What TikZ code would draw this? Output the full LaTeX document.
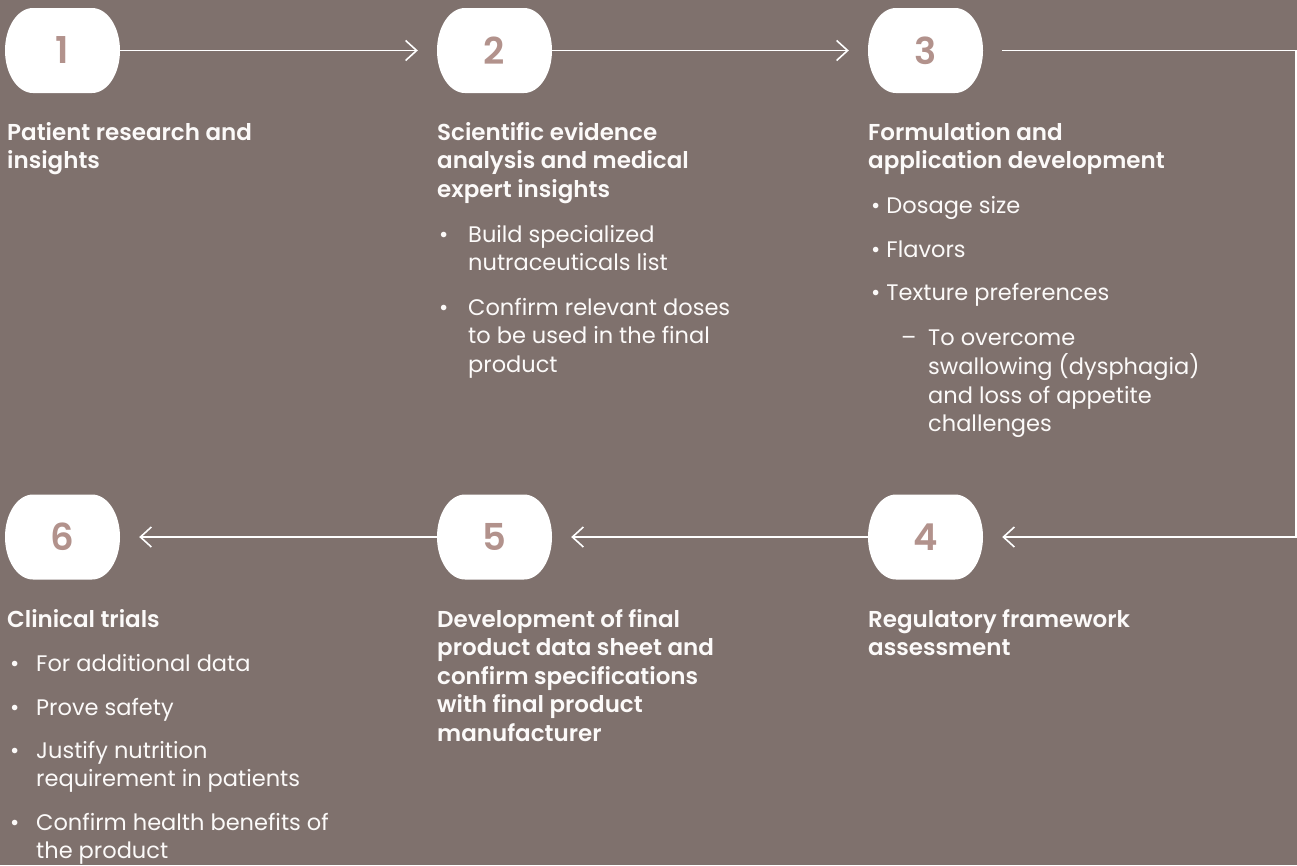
\documentclass[tikz,border=0pt]{standalone}
\usepackage{fontspec}
\setmainfont{Poppins}[BoldFont={Poppins SemiBold}]
\usepackage{xcolor}
\usepackage{tikz}
\usetikzlibrary{arrows.meta, positioning}
\definecolor{bgtaupe}{RGB}{127,113,109}
\definecolor{numrose}{RGB}{178,146,140}
\definecolor{txtwhite}{RGB}{252,250,249}
% lines stacked from the first baseline down
\newcommand{\stack}[1]{\begin{tabular}[t]{@{}l@{}}#1\end{tabular}}

\begin{document}
\begin{tikzpicture}[
    x=1pt, y=-1pt,
    stepbox/.style={rectangle, fill=bgtaupe, draw=none, minimum width=115pt, minimum height=85pt, inner sep=0pt, text=numrose, font=\fontsize{37}{37}\selectfont\bfseries,
        path picture={\fill[white] ([xshift=-29.5pt]path picture bounding box.north) -- ([xshift=29.5pt]path picture bounding box.north)
            arc[start angle=90, end angle=-90, x radius=28pt, y radius=42.5pt] -- ([xshift=-29.5pt]path picture bounding box.south)
            arc[start angle=270, end angle=90, x radius=28pt, y radius=42.5pt] -- cycle;}},
    title/.style  ={anchor=base west, inner sep=0pt, text=txtwhite, font=\fontsize{23}{28.5}\selectfont\bfseries},
    item/.style   ={anchor=base west, inner sep=0pt, text=txtwhite, font=\fontsize{22.5}{28.5}\selectfont},
    flow/.style   ={-{Straight Barb[length=11pt, width=20pt]}, line width=1.6pt, white, shorten >=19pt}
]
\def\bul{\textbullet}
% --- background and page frame ---
\fill[bgtaupe] (0,0) rectangle (1297,865);
\useasboundingbox (0,0) rectangle (1297,865);

% --- numbered steps ---
\node[stepbox] (s1) at (62.5,50.5) {1};
\node[stepbox] (s2) at (494.5,50.5) {2};
\node[stepbox] (s3) at (925.5,50.5) {3};
\node[stepbox] (s4) at (925.5,537) {4};
\node[stepbox] (s5) at (494.5,537) {5};
\node[stepbox] (s6) at (62.5,537) {6};

% --- connectors ---
\coordinate (turnA) at (1296,50.5);
\coordinate (turnB) at (1296,537);
\draw[flow] (s1.east) -- (s2.west);
\draw[flow] (s2.east) -- (s3.west);
\draw[flow, shorten <=19pt] (s3.east) -- (turnA) -- (turnB) -- (s4.east);
\draw[flow] (s4.west) -- (s5.east);
\draw[flow] (s5.west) -- (s6.east);

% ============ top row ============
\node[title] (t1) at (7,140) {\stack{Patient research and\\insights}};

\node[title] (t2) at (437,140) {\stack{Scientific evidence\\analysis and medical\\expert insights}};
\node[item] (b2a) at (439,242) {\bul};
\node[item] (i2a) at (468,242) {\stack{Build specialized\\nutraceuticals list}};
\node[item] (b2b) at (439,315) {\bul};
\node[item] (i2b) at (468,315) {\stack{Confirm relevant doses\\to be used in the final\\product}};

\node[title] (t3) at (868,140) {\stack{Formulation and\\application development}};
\node[item] (i3a) at (871,213) {\bul\ Dosage size};
\node[item] (i3b) at (871,257) {\bul\ Flavors};
\node[item] (i3c) at (871,300) {\bul\ Texture preferences};
\node[item] (d3) at (901,345) {--};
\node[item] (i3d) at (928,345) {\stack{To overcome\\swallowing (dysphagia)\\and loss of appetite\\challenges}};

% ============ bottom row ============
\node[title] (t6) at (7,627) {Clinical trials};
\node[item] (b6a) at (10,671) {\bul};
\node[item] (i6a) at (36,671) {For additional data};
\node[item] (b6b) at (10,715) {\bul};
\node[item] (i6b) at (36,715) {Prove safety};
\node[item] (b6c) at (10,758) {\bul};
\node[item] (i6c) at (36,758) {\stack{Justify nutrition\\requirement in patients}};
\node[item] (b6d) at (10,830) {\bul};
\node[item] (i6d) at (36,830) {\stack{Confirm health benefits of\\the product}};

\node[title] (t5) at (437,627) {\stack{Development of final\\product data sheet and\\confirm specifications\\with final product\\manufacturer}};

\node[title] (t4) at (868,627) {\stack{Regulatory framework\\assessment}};
\end{tikzpicture}
\end{document}
